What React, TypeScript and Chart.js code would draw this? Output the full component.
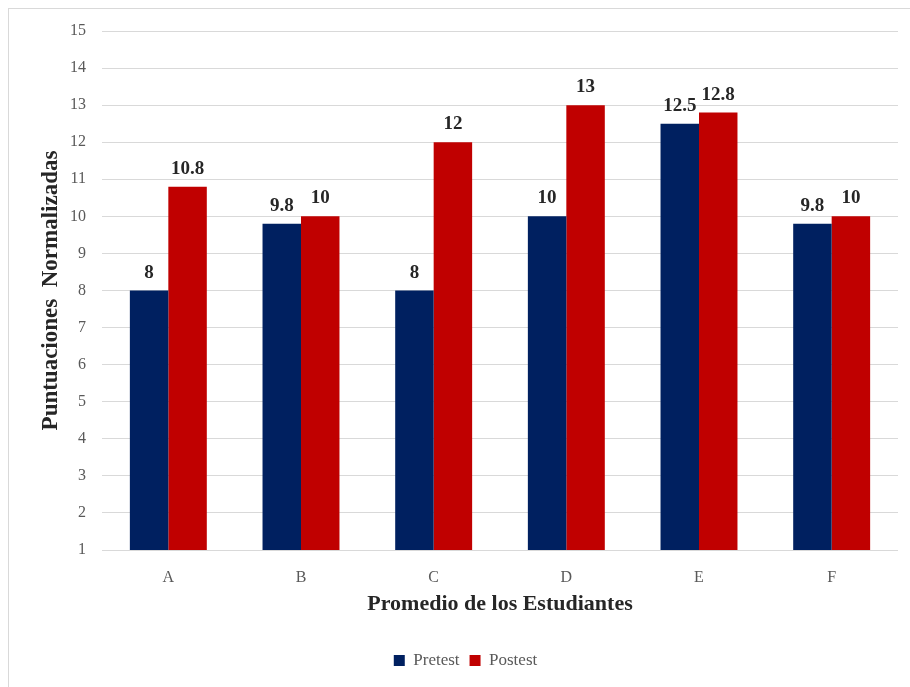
import React, { useEffect, useRef } from "react";
import { Chart, registerables } from "chart.js";

Chart.register(...registerables);

const categories = ["A", "B", "C", "D", "E", "F"];
const pretest = [8, 9.8, 8, 10, 12.5, 9.8];
const postest = [10.8, 10, 12, 13, 12.8, 10];
const seriesNames = ["Pretest", "Postest"];
const yMin = 1;
const yMax = 15;

const SERIF = "'Liberation Serif', 'Times New Roman', serif";

const dataLabelPlugin = {
  id: "dataLabels",
  afterDatasetsDraw(chart: any) {
    const ctx = chart.ctx;
    ctx.save();
    ctx.font = `bold 19px ${SERIF}`;
    ctx.fillStyle = "#262626";
    ctx.textAlign = "center";
    ctx.textBaseline = "alphabetic";
    chart.data.datasets.forEach((ds: any, i: number) => {
      const meta = chart.getDatasetMeta(i);
      meta.data.forEach((bar: any, j: number) => {
        ctx.fillText(String(ds.data[j]), bar.x, bar.y - 13);
      });
    });
    ctx.restore();
  },
};

export default function App() {
  const ref = useRef<HTMLCanvasElement | null>(null);
  useEffect(() => {
    if (!ref.current) return;
    const chart = new Chart(ref.current, {
      type: "bar",
      data: {
        labels: categories,
        datasets: [
          { label: seriesNames[0], data: pretest, backgroundColor: "#002060", borderWidth: 0 },
          { label: seriesNames[1], data: postest, backgroundColor: "#C00000", borderWidth: 0 },
        ],
      },
      options: {
        animation: false,
        responsive: false,
        datasets: { bar: { categoryPercentage: 0.58, barPercentage: 1.0 } },
        layout: { padding: { top: 22, left: 24, right: 12, bottom: 8 } },
        plugins: {
          legend: {
            position: "bottom",
            labels: {
              boxWidth: 11,
              boxHeight: 11,
              padding: 10,
              color: "#595959",
              font: { family: SERIF, size: 17 },
            },
          },
          tooltip: { enabled: false },
        },
        scales: {
          x: {
            grid: { display: false },
            border: { display: false },
            ticks: { color: "#595959", font: { family: SERIF, size: 16 }, padding: 10 },
            title: {
              display: true,
              text: "Promedio de los Estudiantes",
              color: "#262626",
              font: { family: SERIF, size: 22, weight: "bold" },
              padding: { top: 4, bottom: 24 },
            },
            afterFit(scale: any) {
              scale.height = 92;
            },
          },
          y: {
            min: yMin,
            max: yMax,
            grid: { color: "#d9d9d9", lineWidth: 1, drawTicks: false },
            border: { display: false },
            ticks: {
              stepSize: 1,
              color: "#595959",
              font: { family: SERIF, size: 16 },
              padding: 16,
            },
            title: {
              display: true,
              text: "Puntuaciones  Normalizadas",
              color: "#262626",
              font: { family: SERIF, size: 23, weight: "bold" },
              padding: { top: 4, bottom: 4 },
            },
            afterFit(scale: any) {
              scale.width = 69;
              scale.paddingTop = 0;
              scale.paddingBottom = 0;
            },
          },
        },
      },
      plugins: [dataLabelPlugin],
    });
    return () => chart.destroy();
  }, []);

  return (
    <div
      style={{
        position: "fixed",
        top: 8,
        left: 8,
        width: 901,
        height: 678,
        borderTop: "1px solid #d9d9d9",
        borderLeft: "1px solid #d9d9d9",
        background: "#fff",
      }}
    >
      <canvas ref={ref} width={901} height={678} style={{ display: "block" }} />
    </div>
  );
}
